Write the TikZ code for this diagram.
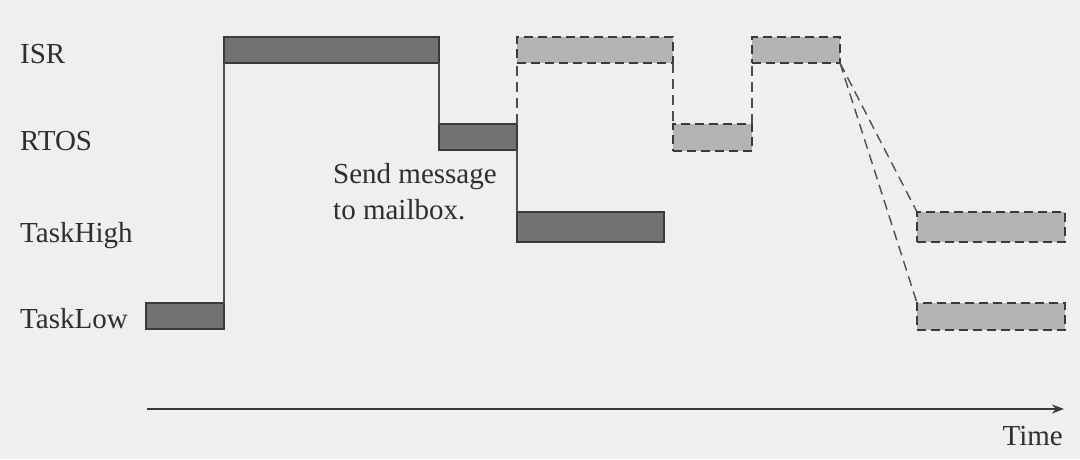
\documentclass[tikz,border=0pt]{standalone}
\usepackage{fontspec}
\setmainfont{Liberation Serif}
\usetikzlibrary{arrows.meta}
\definecolor{paper}{HTML}{EFEFEE}
\definecolor{ink}{HTML}{3A3A3A}
\definecolor{textink}{HTML}{2E2E2E}
\definecolor{runfill}{HTML}{727272}
\definecolor{laterfill}{HTML}{B4B4B4}
\begin{document}
\begin{tikzpicture}[x=1pt,y=-1pt,
  every node/.style={font=\fontsize{29}{36}\selectfont, text=textink},
  bar/.style={draw=ink, line width=1.6pt, inner sep=0pt, outer sep=0pt,
              anchor=north west, minimum height=#1},
  runbar/.style={bar=26pt, fill=runfill},
  laterbar/.style={bar=26pt, fill=laterfill, dash pattern=on 9pt off 5pt},
  link/.style={draw=ink!90, line width=1.4pt},
  laterlink/.style={link, dash pattern=on 10pt off 6pt},
  lane/.style={anchor=base west, inner sep=0pt},
  axis/.style={draw=ink, line width=2pt, -{Stealth[length=12pt,width=9pt]}}
]
  % page
  \fill[paper] (0,0) rectangle (1080,459);
  \useasboundingbox (0,0) rectangle (1080,459);

  % lane names
  \node[lane] (lisr)  at (20,63)  {ISR};
  \node[lane] (lrtos) at (20,150) {RTOS};
  \node[lane] (lhigh) at (20,242) {TaskHigh};
  \node[lane] (llow)  at (20,328) {TaskLow};

  % what actually runs
  \node[runbar, minimum width=78pt]  (low1)  at (146,303) {};
  \node[runbar, minimum width=215pt] (isr1)  at (224,37)  {};
  \node[runbar, minimum width=78pt]  (rtos1) at (439,124) {};
  \node[runbar, minimum width=147pt, minimum height=30pt] (high1) at (517,212) {};

  % what would run instead
  \node[laterbar, minimum width=156pt] (isr2)  at (517,37)  {};
  \node[laterbar, minimum width=79pt, minimum height=27pt] (rtos2) at (673,124) {};
  \node[laterbar, minimum width=88pt]  (isr3)  at (752,37)  {};
  \node[laterbar, minimum width=148pt, minimum height=30pt] (high2) at (917,212) {};
  \node[laterbar, minimum width=148pt, minimum height=27pt] (low2)  at (917,303) {};

  % switches between lanes
  \draw[link] (low1.north east) -- (isr1.south west);
  \draw[link] (isr1.south east) -- (rtos1.north west);
  \draw[link] (rtos1.south east) -- (high1.north west);

  \draw[laterlink] (rtos1.north east) -- (isr2.south west);
  \draw[laterlink] (isr2.south east) -- (rtos2.north west);
  \draw[laterlink] (rtos2.north east) -- (isr3.south west);
  \draw[laterlink] (isr3.south east) -- (high2.north west);
  \draw[laterlink] (isr3.south east) -- (low2.north west);

  % note (base anchor sits on the last line)
  \node[anchor=base west, inner sep=0pt, align=left] (note) at (333,219)
    {Send message\\to mailbox.};

  % time axis
  \coordinate (t0) at (147,409);
  \coordinate (t1) at (1064,409);
  \draw[axis] (t0) -- (t1);
  \node[anchor=base east, inner sep=0pt] (time) at (1063,445) {Time};
\end{tikzpicture}
\end{document}
